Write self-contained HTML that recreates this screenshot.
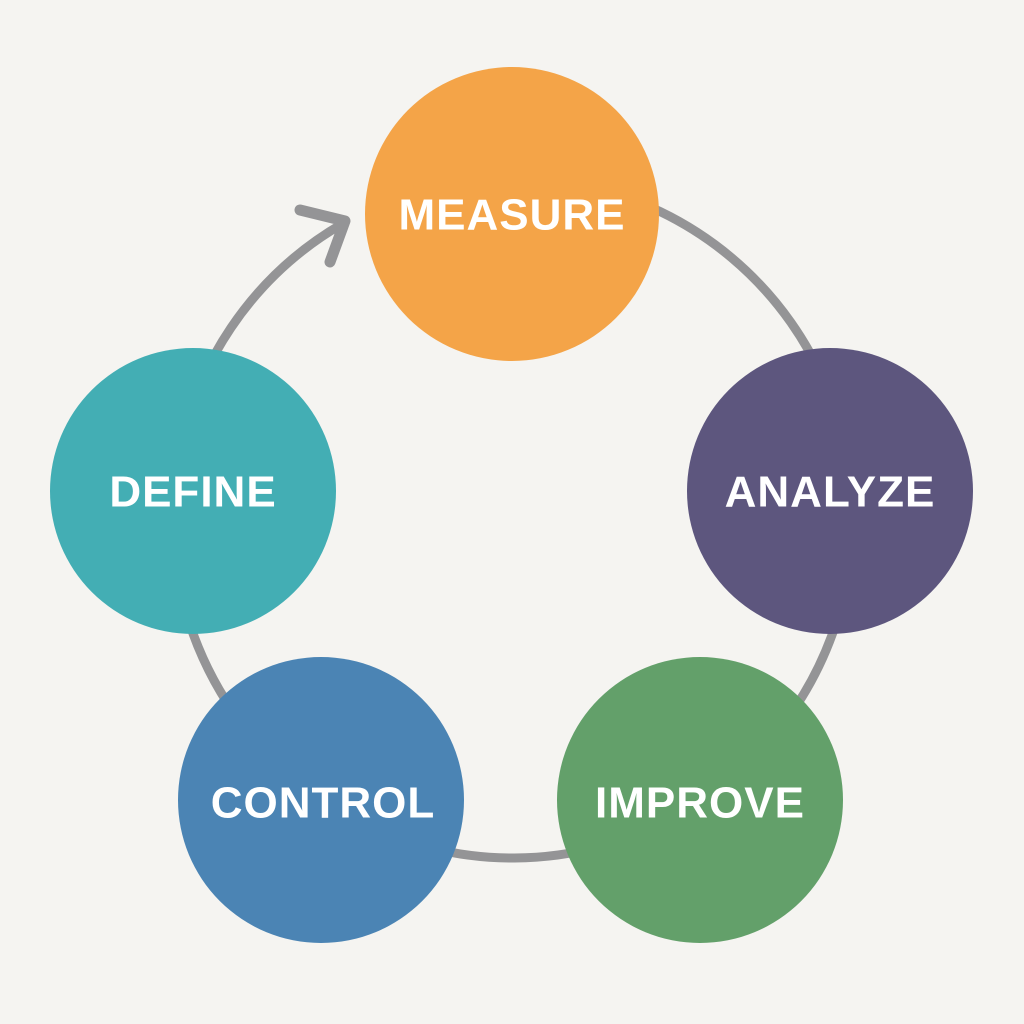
<!DOCTYPE html>
<html><head><style>
html,body{margin:0;padding:0;background:#f5f4f1;}
svg{display:block}
text{font-family:"Liberation Sans",sans-serif;font-weight:bold;fill:#fff;text-anchor:middle;dominant-baseline:central;letter-spacing:1px}
</style></head><body>
<svg width="1024" height="1024" viewBox="0 0 1024 1024">
<rect width="1024" height="1024" fill="#f5f4f1"/>
<path d="M342 224 A340 340 0 1 0 512 178" fill="none" stroke="#949496" stroke-width="9" stroke-linecap="round"/>
<polyline points="300,210 345,221 330,262" fill="none" stroke="#949496" stroke-width="11" stroke-linecap="round" stroke-linejoin="round"/>
<circle cx="512" cy="214" r="147" fill="#f4a448"/>
<circle cx="830" cy="491" r="143" fill="#5d567e"/>
<circle cx="700" cy="800" r="143" fill="#63a06a"/>
<circle cx="321" cy="800" r="143" fill="#4b84b4"/>
<circle cx="193" cy="491" r="143" fill="#43aeb4"/>
<text x="512" y="215" font-size="44">MEASURE</text>
<text x="830" y="492" font-size="44">ANALYZE</text>
<text x="700" y="803" font-size="44">IMPROVE</text>
<text x="323" y="803" font-size="44">CONTROL</text>
<text x="193" y="492" font-size="44">DEFINE</text>
</svg>
</body></html>
